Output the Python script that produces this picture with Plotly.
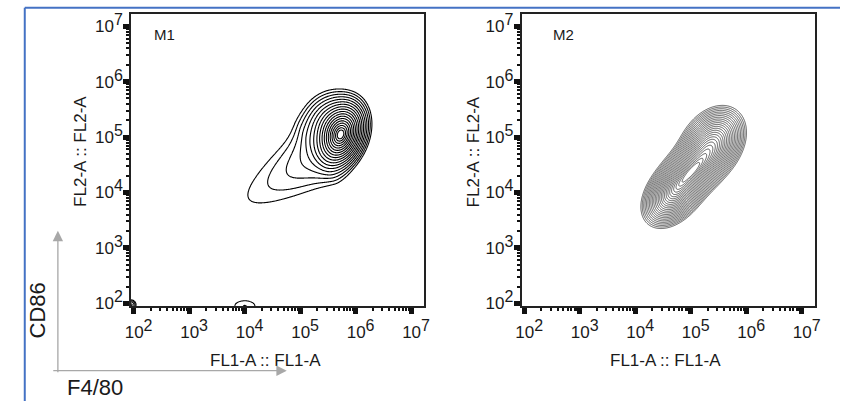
import numpy as np
import plotly.graph_objects as go

# ---------------- data (log10 units) ----------------
PANEL_NAMES = ["M1", "M2"]
X_TITLE = "FL1-A :: FL1-A"
Y_TITLE = "FL2-A :: FL2-A"
DECADES = [2, 3, 4, 5, 6, 7]
EXPONENTS = ["2", "3", "4", "5", "6", "7"]

# M1 population: gaussian components (centre in log10 units, spread, correlation, height)
M1_CX = [5.74, 5.55, 1.95, 4.00]
M1_CY = [5.03, 5.25, 1.97, 1.95]
M1_SX = [0.205, 0.28, 0.06, 0.21]
M1_SY = [0.28, 0.30, 0.06, 0.11]
M1_RHO = [0.25, 0.10, 0.0, 0.0]
M1_AMP = [1.00, 0.25, 0.10, 0.05]
# M1 low-intensity tail (exponential shoulder toward lower left)
M1_TAIL_START = [5.30, 4.68]   # where the shoulder joins the main peak
M1_TAIL_ANGLE = 33.0           # degrees
M1_TAIL_RATE = 0.85            # per decade
M1_TAIL_WIDTH = 0.36
M1_TAIL_AMP = 0.12

# M2 population components
M2_CX = [4.70, 5.05, 5.38]
M2_CY = [4.00, 4.42, 4.88]
M2_SX = [0.24, 0.26, 0.25]
M2_SY = [0.26, 0.26, 0.28]
M2_RHO = [0.40, 0.45, 0.30]
M2_AMP = [0.90, 1.00, 0.85]

AXIS_RANGE = [1.947, 7.23]

# ---------------- helpers ----------------
W, H = 846, 408


def px(x):
    return x / W


def py(y):
    return 1 - y / H


g = np.linspace(1.80, 7.40, 480)
GX, GY = np.meshgrid(g, g)


def gauss_sum(cx, cy, sx, sy, rho, amp):
    z = np.zeros_like(GX)
    for a, b, c, d, r, k in zip(cx, cy, sx, sy, rho, amp):
        dx = (GX - a) / c
        dy = (GY - b) / d
        q = (dx * dx - 2 * r * dx * dy + dy * dy) / (1 - r * r)
        z += k * np.exp(-0.5 * q)
    return z


def shoulder(start, angle, rate, width, amp):
    t = np.radians(angle)
    dx, dy = GX - start[0], GY - start[1]
    s = dx * np.cos(t) + dy * np.sin(t)
    v = -dx * np.sin(t) + dy * np.cos(t)
    along = np.where(s < 0, np.exp(rate * np.minimum(s, 0)), np.exp(-s * s / (2 * 0.25 ** 2)))
    return amp * along * np.exp(-v * v / (2 * width ** 2))


def to_radius(z):
    z = z / z.max()
    return np.sqrt(-2 * np.log(np.clip(z, 1e-12, 1)))


R1 = to_radius(gauss_sum(M1_CX, M1_CY, M1_SX, M1_SY, M1_RHO, M1_AMP)
               + shoulder(M1_TAIL_START, M1_TAIL_ANGLE, M1_TAIL_RATE, M1_TAIL_WIDTH, M1_TAIL_AMP))
R2 = to_radius(gauss_sum(M2_CX, M2_CY, M2_SX, M2_SY, M2_RHO, M2_AMP))

fig = go.Figure()
fig.add_trace(go.Contour(
    x=10 ** g, y=10 ** g, z=R1, xaxis="x", yaxis="y",
    contours=dict(coloring="lines", start=0.27, end=2.66, size=0.14),
    colorscale=[[0, "#000000"], [1, "#000000"]],
    line=dict(width=1.1), showscale=False, hoverinfo="skip"))
fig.add_trace(go.Contour(
    x=10 ** g, y=10 ** g, z=R2, xaxis="x2", yaxis="y2",
    contours=dict(coloring="lines", start=0.25, end=2.66, size=0.10),
    colorscale=[[0, "#333333"], [1, "#333333"]],
    line=dict(width=0.8), showscale=False, hoverinfo="skip"))

tickvals = [10 ** d for d in DECADES]
minor_vals = [k * 10 ** d for d in DECADES[:-1] for k in range(2, 10)]
FONT = "Liberation Sans, Arial, sans-serif"
sup = "<sup><span style='font-size:16px'>%s</span></sup>"
x_ticktext = ["\u00a0\u00a010" + sup % e for e in EXPONENTS]
y_ticktext = ["10" + sup % e for e in EXPONENTS]

axis_common = dict(
    type="log", range=AXIS_RANGE, showgrid=False, zeroline=False,
    showline=True, linecolor="#222", linewidth=1.5, mirror=True,
    tickmode="array", tickvals=tickvals,
    ticks="outside", ticklen=6, tickwidth=5, tickcolor="#111",
    tickfont=dict(family=FONT, size=17, color="#1a1a1a"),
    minor=dict(tickmode="array", tickvals=minor_vals, ticks="outside",
               ticklen=3, tickwidth=2, tickcolor="#111", showgrid=False),
)
xax = dict(axis_common, ticktext=x_ticktext, ticklabelstandoff=4)
yax = dict(axis_common, ticktext=y_ticktext, ticklabelstandoff=-3)

Y_DOM = [py(311), py(12)]
fig.update_layout(
    width=W, height=H, margin=dict(l=0, r=0, t=0, b=0),
    paper_bgcolor="white", plot_bgcolor="white", showlegend=False,
    xaxis=dict(domain=[px(118), px(419)], anchor="y", **xax),
    yaxis=dict(domain=Y_DOM, anchor="x", **yax),
    xaxis2=dict(domain=[px(519), px(820)], anchor="y2", **xax),
    yaxis2=dict(domain=Y_DOM, anchor="x2", **yax),
)

ann = []
title_font = dict(family=FONT, size=17, color="#1a1a1a")
for xc_title, yc_title in [(256, 66), (667, 470)]:
    ann.append(dict(x=px(xc_title), y=py(367), xref="paper", yref="paper",
                    text=X_TITLE, showarrow=False, font=title_font,
                    xanchor="center", yanchor="middle"))
    ann.append(dict(x=px(yc_title), y=py(153), xref="paper", yref="paper",
                    text=Y_TITLE, showarrow=False, font=title_font, textangle=-90,
                    xanchor="center", yanchor="middle"))
for name, nx in zip(PANEL_NAMES, [152, 562]):
    ann.append(dict(x=px(nx), y=py(33), xref="paper", yref="paper",
                    text=name, showarrow=False,
                    font=dict(family=FONT, size=15, color="#1a1a1a"),
                    xanchor="center", yanchor="middle"))

big_font = dict(family=FONT, size=22, color="#1a1a1a")
ann.append(dict(x=px(22), y=py(315), xref="paper", yref="paper", text="CD86",
                showarrow=False, font=big_font, textangle=-90,
                xanchor="center", yanchor="middle"))
ann.append(dict(x=px(81), y=py(394), xref="paper", yref="paper", text="F4/80",
                showarrow=False, font=big_font, xanchor="center", yanchor="middle"))

# grey marker arrows
ann.append(dict(x=px(43), y=py(234), xref="paper", yref="paper", text="",
                showarrow=True, ax=0, ay=143, arrowhead=2, arrowsize=1.6,
                arrowwidth=1.3, arrowcolor="#a8a8a8", standoff=0))
ann.append(dict(x=px(278), y=py(377), xref="paper", yref="paper", text="",
                showarrow=True, ax=-235, ay=0, arrowhead=2, arrowsize=1.6,
                arrowwidth=1.3, arrowcolor="#a8a8a8", standoff=0))
fig.update_layout(annotations=ann)

# blue frame of the figure
fig.add_shape(type="line", xref="paper", yref="paper", x0=px(9), x1=1,
              y0=py(6), y1=py(6), line=dict(color="#4472C4", width=2))
fig.add_shape(type="line", xref="paper", yref="paper", x0=px(9), x1=px(9),
              y0=py(6), y1=0, line=dict(color="#4472C4", width=2))

fig.write_html("out.html", config={"displayModeBar": False},
               post_script="document.body.style.margin='0';document.body.style.overflow='hidden';")
